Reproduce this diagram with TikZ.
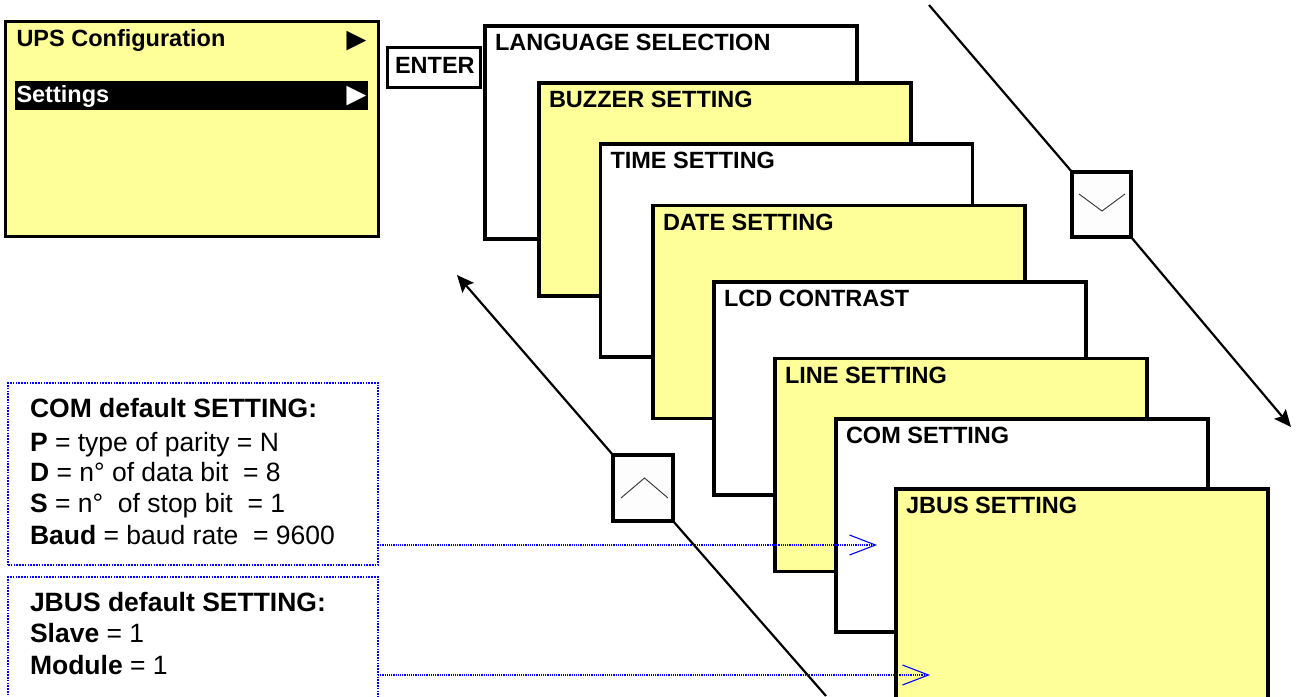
\documentclass[tikz,border=0pt]{standalone}
\usepackage{fontspec}
\setmainfont{Liberation Sans}
\usetikzlibrary{arrows.meta}
\definecolor{panel}{HTML}{FFFF99}
\definecolor{note}{HTML}{0000FF}
\definecolor{keyface}{HTML}{FDFDFD}

\tikzset{
  frame/.style={draw=black, line width=3.5pt, anchor=north west,
    inner sep=0pt, outer sep=0pt},
  screen/.style={frame, minimum width=372pt, minimum height=213pt},
  keybox/.style={frame, fill=keyface},
  menutext/.style={font=\bfseries\fontsize{23.5}{28}\selectfont,
    anchor=base west, inner sep=0pt, outer sep=0pt},
  pointer/.style={font=\fontsize{33}{36}\selectfont,
    anchor=base west, inner sep=0pt, outer sep=0pt},
  notetext/.style={font=\fontsize{26.5}{31}\selectfont,
    anchor=base west, inner sep=0pt, outer sep=0pt},
  notebox/.style={draw=note, line width=1.6pt, dash pattern=on 1.6pt off 1.2pt,
    anchor=north west, inner sep=0pt, outer sep=0pt, minimum width=370pt},
  noteline/.style={draw=note, line width=1.1pt, dash pattern=on 1.1pt off 1.1pt,
    -{Straight Barb[length=26pt, width=20pt, line width=1.1pt]}},
  diag/.style={draw=black, line width=2.2pt},
  tip/.style={-{Stealth[length=17pt, width=15pt, inset=3pt]}},
  chev/.style={draw=black!80, line width=0.9pt},
}

\begin{document}
\begin{tikzpicture}[x=1pt, y=-1pt]
\useasboundingbox (0,0) rectangle (1298,696);
\clip (0,0) rectangle (1298,696);

% main menu screen
\node[frame, fill=panel, line width=3pt, minimum width=373pt, minimum height=215pt] (ups) at (5,21.5) {};
\node[anchor=north west, fill=black, inner sep=0pt, outer sep=0pt,
      minimum width=353pt, minimum height=29pt] (selbar) at (15,81) {};
\node[menutext] (upstitle) at (16.5,46) {UPS Configuration};
\node[pointer] (upsarrow) at (340,50) {►};
\node[menutext, text=white] (settings) at (16.5,102) {Settings};
\node[pointer, text=white] (selarrow) at (340,105.4) {►};

% ENTER key
\node[frame, line width=3pt, minimum width=93pt, minimum height=40pt] (enter) at (387,47) {};
\node[menutext] (entertext) at (395,73.3) {ENTER};

% stack of setting screens
\foreach \n/\x/\y/\c/\t in {
    lang/485/26/white/LANGUAGE SELECTION,
    buzz/539/83/panel/BUZZER SETTING,
    time/600.5/144/white/TIME SETTING,
    date/653/205.5/panel/DATE SETTING,
    lcd/714/282/white/LCD CONTRAST,
    line/775/358.5/panel/LINE SETTING,
    com/836/419/white/COM SETTING,
    jbus/896/489/panel/JBUS SETTING} {
  \node[screen, fill=\c] (\n) at (\x,\y) {};
  \node[menutext] (\n-title) at ([xshift=10pt, yshift=-24.5pt]\n.north west) {\t};
}

% scroll-down key
\node[keybox, minimum width=59pt, minimum height=65pt] (down) at (1072,172) {};
\draw[chev] ([shift={(-22.5,-10.5)}]down.center) -- ([shift={(0.5,6.5)}]down.center)
            -- ([shift={(23.5,-10.5)}]down.center);
\coordinate (downstart) at (929,5);
\coordinate (downtip) at (1291,427);
\draw[diag] (downstart) -- (down.north west);
\draw[diag, tip] (down.south east) -- (downtip);

% scroll-up key
\node[keybox, minimum width=60pt, minimum height=66pt] (up) at (613,455) {};
\draw[chev] ([shift={(-22,10)}]up.center) -- ([shift={(1.5,-10)}]up.center)
            -- ([shift={(25,10)}]up.center);
\coordinate (uptip) at (457,275);
\coordinate (upend) at (826,696);
\draw[diag, tip] (up.north west) -- (uptip);
\draw[diag] (up.south east) -- (upend);

% default setting notes
\node[notebox, minimum height=182pt] (comnote) at (8,383) {};
\node[notetext, font=\bfseries\fontsize{26.5}{31}\selectfont] (comhead) at (30,417.3) {COM default SETTING:};
\node[notetext] (comp) at (30,451.7) {\textbf{P} = type of parity = N};
\node[notetext] (comd) at (30,481.7) {\textbf{D} = n° of data bit \ = 8};
\node[notetext] (coms) at (30,512.7) {\textbf{S} = n° \ of stop bit \ = 1};
\node[notetext] (comb) at (30,544.3) {\textbf{Baud} = baud rate \ = 9600};

\node[notebox, minimum height=140pt] (jbusnote) at (8,577) {};
\node[notetext, font=\bfseries\fontsize{26.5}{31}\selectfont] (jbushead) at (30,611.7) {JBUS default SETTING:};
\node[notetext] (jbuss) at (30,642.3) {\textbf{Slave} = 1};
\node[notetext] (jbusm) at (30,674.3) {\textbf{Module} = 1};

% pointers from the notes to their screens
\coordinate (comtip) at (877,545);
\coordinate (jbustip) at (930,675);
\draw[noteline] (comnote.east |- comtip) -- (comtip);
\draw[noteline] (jbusnote.east |- jbustip) -- (jbustip);
\end{tikzpicture}
\end{document}
